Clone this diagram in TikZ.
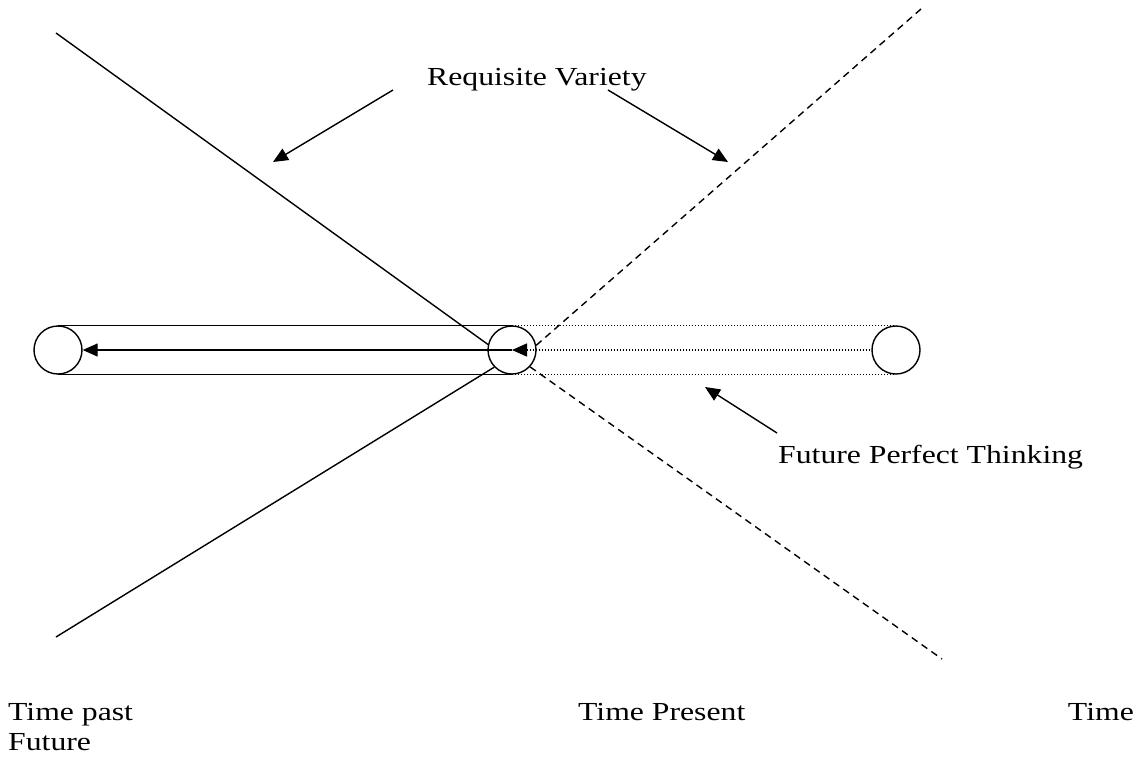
\documentclass[tikz,border=0pt]{standalone}
\usepackage{fontspec}
\setmainfont{Liberation Serif}
\usetikzlibrary{arrows.meta}
\tikzset{
  ring/.style={circle, draw, line width=1.4pt, minimum size=48pt, inner sep=0pt},
  solidln/.style={line width=1.4pt},
  dottedln/.style={line width=1.5pt, dash pattern=on 1.4pt off 1.6pt},
  dashedln/.style={line width=1.4pt, dash pattern=on 7pt off 5pt},
  tip/.style={-{Triangle[length=15pt,width=13pt]}},
  lbl/.style={anchor=base west, inner sep=0pt, font=\fontsize{26}{30}\selectfont}
}
\newcommand{\wide}[1]{\scalebox{1.22}[1]{#1}}
\begin{document}
\begin{tikzpicture}[x=1pt, y=-1pt]
\useasboundingbox (0,0) rectangle (1135,761);
% circles
\node[ring] (cL) at (58,350) {};
\node[ring] (cM) at (512,350) {};
\node[ring] (cR) at (896,350) {};
% end points of the diagonals
\coordinate (tl) at (56,33);
\coordinate (bl) at (56,637);
\coordinate (tr) at (921,9);
\coordinate (br) at (942,659);
% rails
\draw[solidln] (cL.north) -- (cL.north -| cM) coordinate (mtop);
\draw[solidln] (cL.south) -- (cL.south -| cM) coordinate (mbot);
\draw[dottedln] (mtop) -- (cR.north);
\draw[dottedln] (mbot) -- (cR.south);
% middle arrows
\draw[solidln, tip] (cM.center) -- (cL.east);
\draw[dottedln, {Triangle[length=15pt,width=13pt]}-] (cM.center) -- (cR.west);
% diagonals
\draw[solidln] (tl) -- (cM.167);
\draw[solidln] (bl) -- (cM.224);
\draw[dashedln] (cM.11) -- (tr);
\draw[dashedln] (cM.-43) -- (br);
% labels
\node[lbl] (rv) at (427,85) {\wide{Requisite Variety}};
\node[lbl] (fp) at (778,463) {\wide{Future Perfect Thinking}};
\node[lbl] (tp) at (8,720) {\wide{Time past}};
\node[lbl] (tf) at (8,750) {\wide{Future}};
\node[lbl] (tpr) at (578,720) {\wide{Time Present}};
\node[lbl, anchor=base east] (tt) at (1134,720) {\wide{Time}};
% label arrows
\coordinate (a1s) at (393,90);
\coordinate (a1e) at (273,162);
\coordinate (a2s) at (608,90);
\coordinate (a2e) at (728,162);
\coordinate (a3s) at (777,433);
\coordinate (a3e) at (705,387);
\draw[solidln, tip] (a1s) -- (a1e);
\draw[solidln, tip] (a2s) -- (a2e);
\draw[solidln, tip] (a3s) -- (a3e);
\end{tikzpicture}
\end{document}
